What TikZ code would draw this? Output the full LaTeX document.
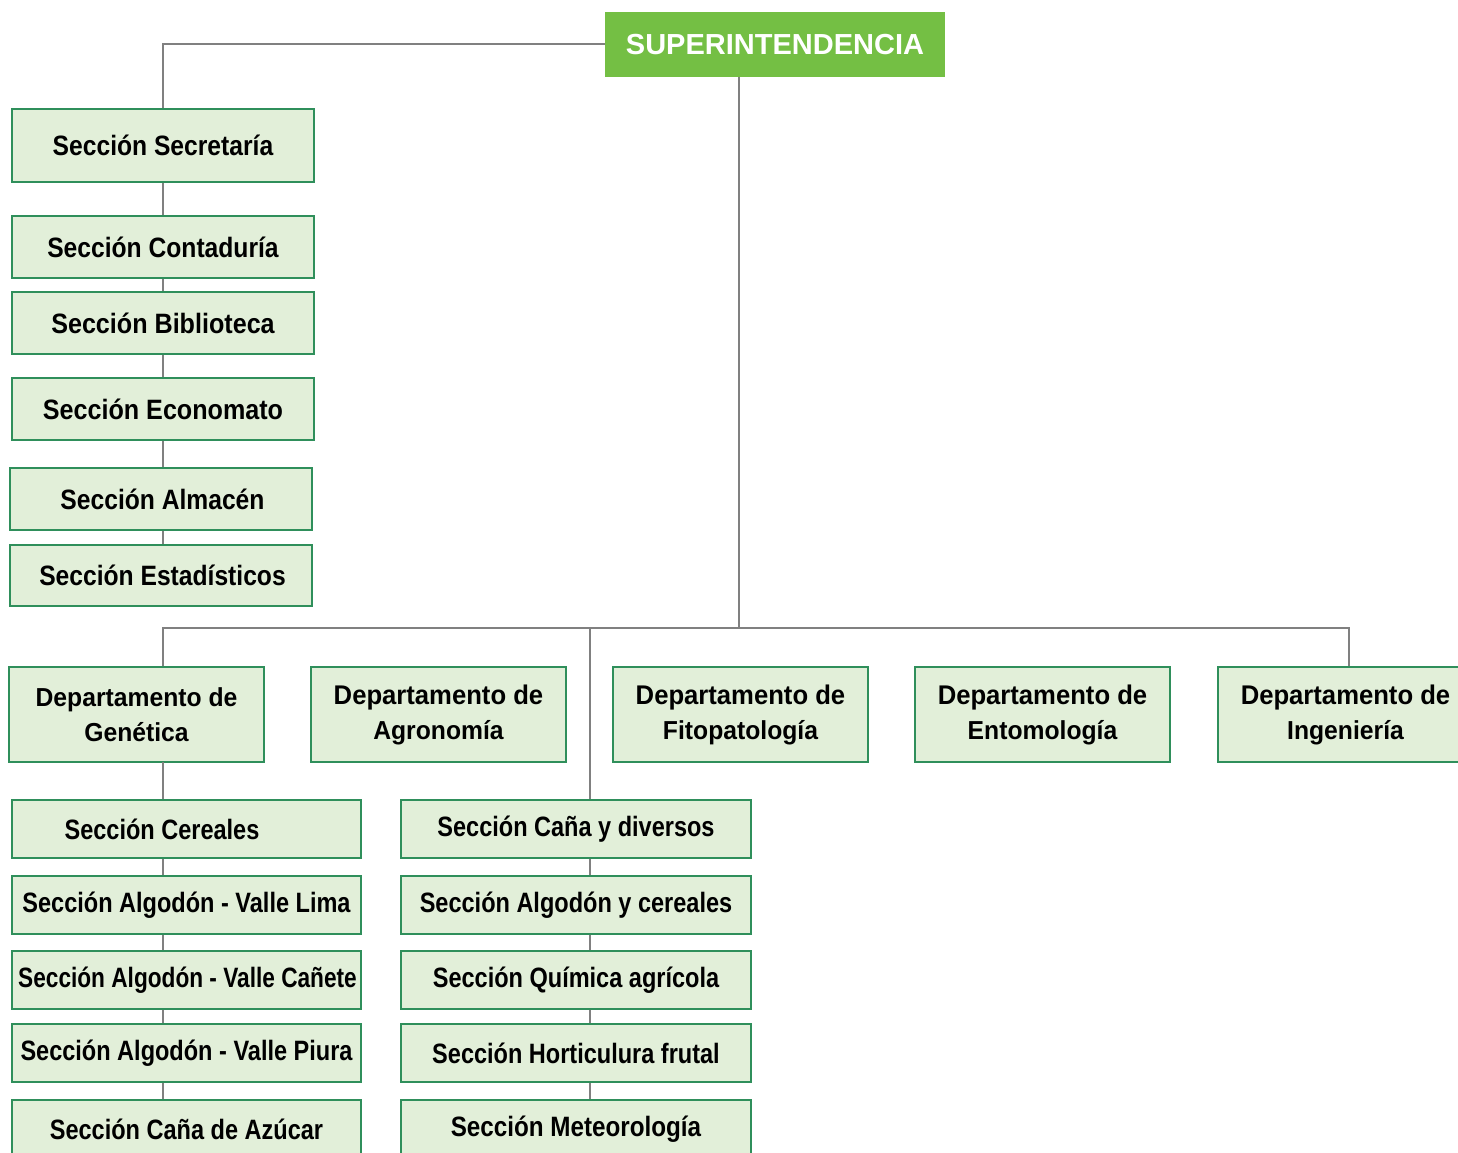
\documentclass[tikz,border=0pt]{standalone}
\usepackage{fontspec}
\usepackage{graphicx}
\setmainfont{Liberation Sans}
\newfontfamily\admfont[FakeStretch=0.88]{Liberation Sans}
\newfontfamily\secfont[FakeStretch=0.84]{Liberation Sans}
\newfontfamily\depfont[FakeStretch=0.95]{Liberation Sans}
\newcommand{\widen}[2]{\scalebox{#1}[1]{#2}}
\definecolor{topgreen}{HTML}{74BF44}
\definecolor{boxfill}{HTML}{E2EFD9}
\definecolor{boxline}{HTML}{2F8F5B}
\definecolor{linkgray}{HTML}{808080}
\tikzset{
  topbox/.style={fill=topgreen, draw=none, minimum width=340pt, minimum height=65pt,
    inner sep=0pt, text=white, font=\bfseries\fontsize{29}{31}\selectfont},
  secbox/.style={fill=boxfill, draw=boxline, line width=1.3pt, minimum width=302pt,
    minimum height=62pt, inner sep=0pt, font=\admfont\bfseries\fontsize{28}{30}\selectfont},
  subbox/.style={secbox, minimum width=349pt, minimum height=58pt,
    font=\secfont\bfseries\fontsize{28}{30}\selectfont},
  depbox/.style={fill=boxfill, draw=boxline, line width=1.3pt, minimum width=255pt,
    minimum height=95pt, inner sep=0pt, align=center,
    font=\depfont\bfseries\fontsize{26}{35}\selectfont},
  link/.style={draw=linkgray, line width=2pt}
}
\begin{document}
\begin{tikzpicture}[x=1pt, y=-1pt]
\useasboundingbox (0,0) rectangle (1458,1153);
\clip (0,0) rectangle (1458,1153);

% top
\node[topbox] (sup) at (775,44.5) {SUPERINTENDENCIA};

% administrative sections
\node[secbox, minimum height=73pt] (sec1) at (163,145.5) {Sección Secretaría};
\node[secbox] (sec2) at (163,247) {Sección Contaduría};
\node[secbox] (sec3) at (163,323) {\widen{1.02}{Sección Biblioteca}};
\node[secbox] (sec4) at (163,409) {\widen{1.02}{Sección Economato}};
\node[secbox] (sec5) at (161,499) {\rule{3pt}{0pt}Sección Almacén};
\node[secbox, minimum height=61pt] (sec6) at (161,575.5) {\rule{3pt}{0pt}Sección Estadísticos};

% departments
\node[depbox] (gen) at (136.5,714.5) {Departamento de\\Genética};
\node[depbox] (agr) at (438.5,714.5) {\fontsize{27}{36}\selectfont Departamento de\\Agronomía};
\node[depbox] (fit) at (740.5,714.5) {\fontsize{27}{36}\selectfont Departamento de\\Fitopatología};
\node[depbox] (ent) at (1042.5,714.5) {\fontsize{27}{36}\selectfont Departamento de\\Entomología};
\node[depbox] (ing) at (1345.5,714.5) {\fontsize{27}{36}\selectfont Departamento de\\Ingeniería};

% genetics sections
\node[subbox] (ga) at (186.5,829) {Sección Cereales\rule{49pt}{0pt}};
\node[subbox] (gb) at (186.5,905) {Sección Algodón - Valle Lima};
\node[subbox] (gc) at (186.5,980) {\rule{2pt}{0pt}\widen{0.963}{Sección Algodón - Valle Cañete}};
\node[subbox] (gd) at (186.5,1053) {Sección Algodón - Valle Piura};
\node[subbox] (ge) at (186.5,1129) {Sección Caña de Azúcar};

% other sections
\node[subbox, minimum width=350pt] (ca) at (576,829) {Sección Caña y diversos};
\node[subbox, minimum width=350pt] (cb) at (576,905) {Sección Algodón y cereales};
\node[subbox, minimum width=350pt] (cc) at (576,980) {Sección Química agrícola};
\node[subbox, minimum width=350pt] (cd) at (576,1053) {Sección Horticulura frutal};
\node[subbox, minimum width=350pt] (ce) at (576,1129) {\widen{1.03}{Sección Meteorología}};

% connector points
\coordinate (adm) at (163,44.5);
\coordinate (trunk) at (739,77);
\coordinate (busL) at (163,628);
\coordinate (busM) at (739,628);
\coordinate (busC) at (590,628);
\coordinate (busR) at (1349,628);
\coordinate (genL) at (163,762);

% administrative chain
\path[link] (sup.west) -- (adm) -- (adm |- sec1.north);
\path[link] (sec1.south -| adm) -- (adm |- sec2.north);
\path[link] (sec2.south -| adm) -- (adm |- sec3.north);
\path[link] (sec3.south -| adm) -- (adm |- sec4.north);
\path[link] (sec4.south -| adm) -- (adm |- sec5.north);
\path[link] (sec5.south -| adm) -- (adm |- sec6.north);

% trunk and department bus
\path[link] (trunk) -- (busM);
\path[link] (busL |- gen.north) -- (busL) -- (busR) -- (busR |- ing.north);
\path[link] (busC) -- (busC |- ca.north);

% genetics chain
\path[link] (genL) -- (genL |- ga.north);
\path[link] (ga.south -| genL) -- (genL |- gb.north);
\path[link] (gb.south -| genL) -- (genL |- gc.north);
\path[link] (gc.south -| genL) -- (genL |- gd.north);
\path[link] (gd.south -| genL) -- (genL |- ge.north);

% second chain
\path[link] (ca.south -| busC) -- (busC |- cb.north);
\path[link] (cb.south -| busC) -- (busC |- cc.north);
\path[link] (cc.south -| busC) -- (busC |- cd.north);
\path[link] (cd.south -| busC) -- (busC |- ce.north);
\end{tikzpicture}
\end{document}
